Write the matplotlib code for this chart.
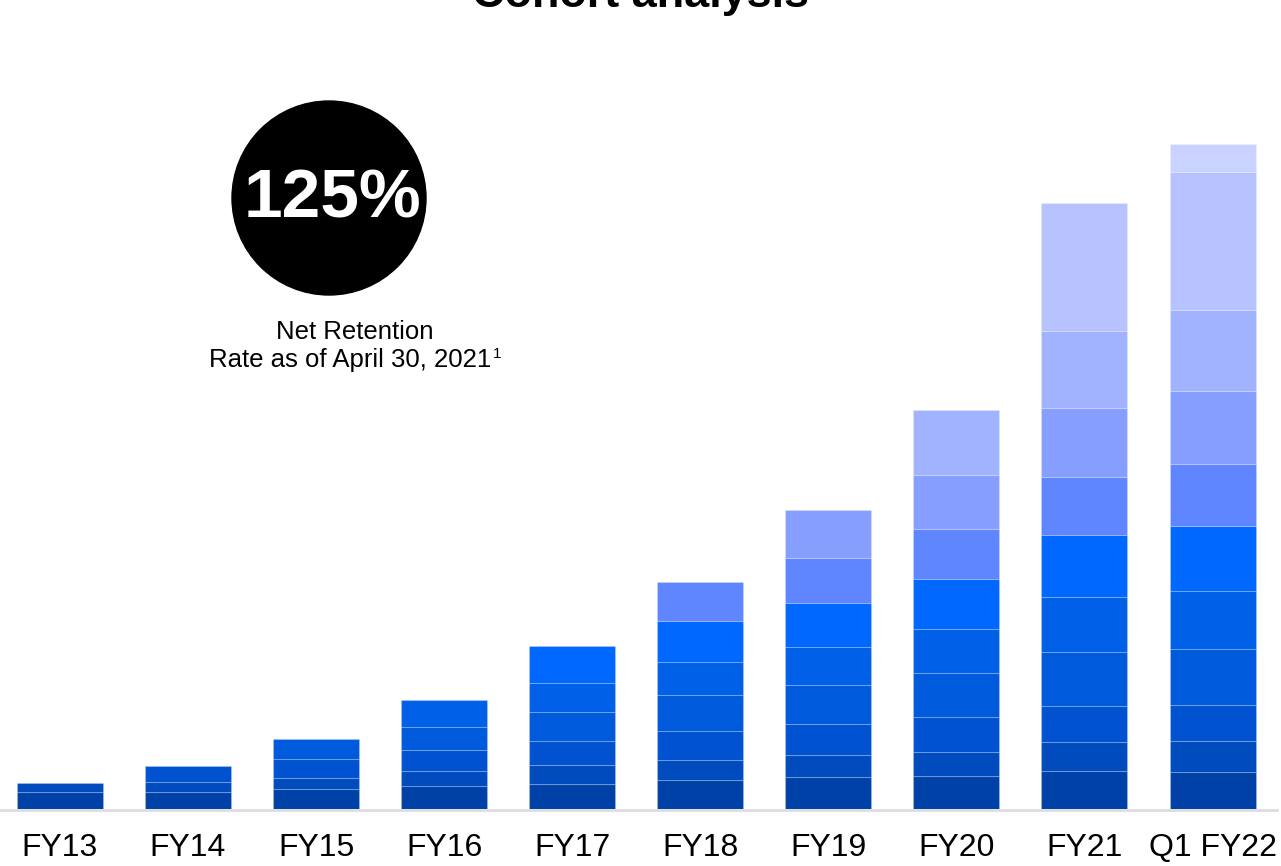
import matplotlib
matplotlib.use("Agg")
import matplotlib.pyplot as plt

plt.rcParams['font.family'] = ['Liberation Sans', 'DejaVu Sans']

categories = ["FY13", "FY14", "FY15", "FY16", "FY17", "FY18", "FY19", "FY20", "FY21", "Q1 FY22"]

# ARR by cohort (bottom = oldest cohort), arbitrary units
cohort_values = [
    [16.4, 9.0],
    [16.4, 10.6, 16.0],
    [20.0, 11.0, 18.4, 20.6],
    [22.4, 15.6, 20.4, 23.6, 26.4],
    [25.0, 19.0, 23.4, 29.0, 29.0, 37.3],
    [28.4, 20.0, 29.0, 36.0, 33.6, 40.4, 39.0],
    [31.4, 22.0, 31.0, 39.0, 38.0, 44.6, 45.0, 47.4],
    [33.0, 24.0, 34.4, 44.0, 44.0, 50.6, 50.0, 53.7, 64.7],
    [37.4, 29.0, 36.6, 53.4, 55.0, 62.3, 58.3, 68.7, 77.0, 127.7],
    [37.0, 30.4, 36.3, 55.7, 58.0, 65.6, 62.0, 72.7, 81.3, 137.7, 28.0],
]

cohort_colors = ["#0041A8", "#004BBE", "#0052D0", "#005ADC", "#0060E8", "#0068FF",
                 "#5F85FF", "#869FFF", "#A1B3FF", "#B6C3FF", "#CAD3FF"]

retention_rate = "125%"
retention_line1 = "Net Retention"
retention_line2 = "Rate as of April 30, 2021"
footnote_mark = "1"
title = "Cohort analysis"

W, H = 1281, 866
fig = plt.figure(figsize=(W / 100, H / 100), dpi=100)

base_px = 808.7
ax = fig.add_axes([0, (H - base_px) / H, 1, base_px / H])
ax.set_ylim(0, base_px)
ax.set_xlim(-60 / 128.06, 9 + (W - 1212.5) / 128.06)
ax.axis('off')

bar_w = 86 / 128.06
for i, vals in enumerate(cohort_values):
    bottom = 0.0
    for j, v in enumerate(vals):
        ax.bar(i, v, width=bar_w, bottom=bottom, color=cohort_colors[j],
               edgecolor=(1, 1, 1, 0.18), linewidth=0.8, zorder=2)
        bottom += v

# baseline
ax.axhline(-1.0, xmin=0, xmax=1277 / W, color="#DDDDDD", linewidth=2, zorder=1,
           clip_on=False)

# category labels
for i, c in enumerate(categories):
    ax.text(i, base_px - 847.5, c, ha='center', va='center', fontsize=23,
            color='black', clip_on=False)

# title (clipped at the top)
fig.text(0.5, 1 - 6.5 / H, title, ha='center', va='baseline', fontsize=32.4,
         fontweight='bold', color='black')

# circle with retention rate
circ_ax = fig.add_axes([0, 0, 1, 1])
circ_ax.set_xlim(0, W)
circ_ax.set_ylim(H, 0)
circ_ax.axis('off')
circ_ax.set_aspect('auto')
circle = plt.Circle((329, 198), 97, color='black', zorder=3)
circ_ax.add_patch(circle)
circ_ax.text(332, 200, retention_rate, ha='center', va='center', fontsize=50,
             fontweight='bold', color='white', zorder=4)
circ_ax.text(355, 339, retention_line1, ha='center', va='baseline', fontsize=18.5,
             color='black')
circ_ax.text(350, 367, retention_line2, ha='center', va='baseline', fontsize=18.5,
             color='black')
circ_ax.text(493, 358, footnote_mark, ha='left', va='baseline', fontsize=11,
             color='black')

fig.savefig("out.png", dpi=100)
